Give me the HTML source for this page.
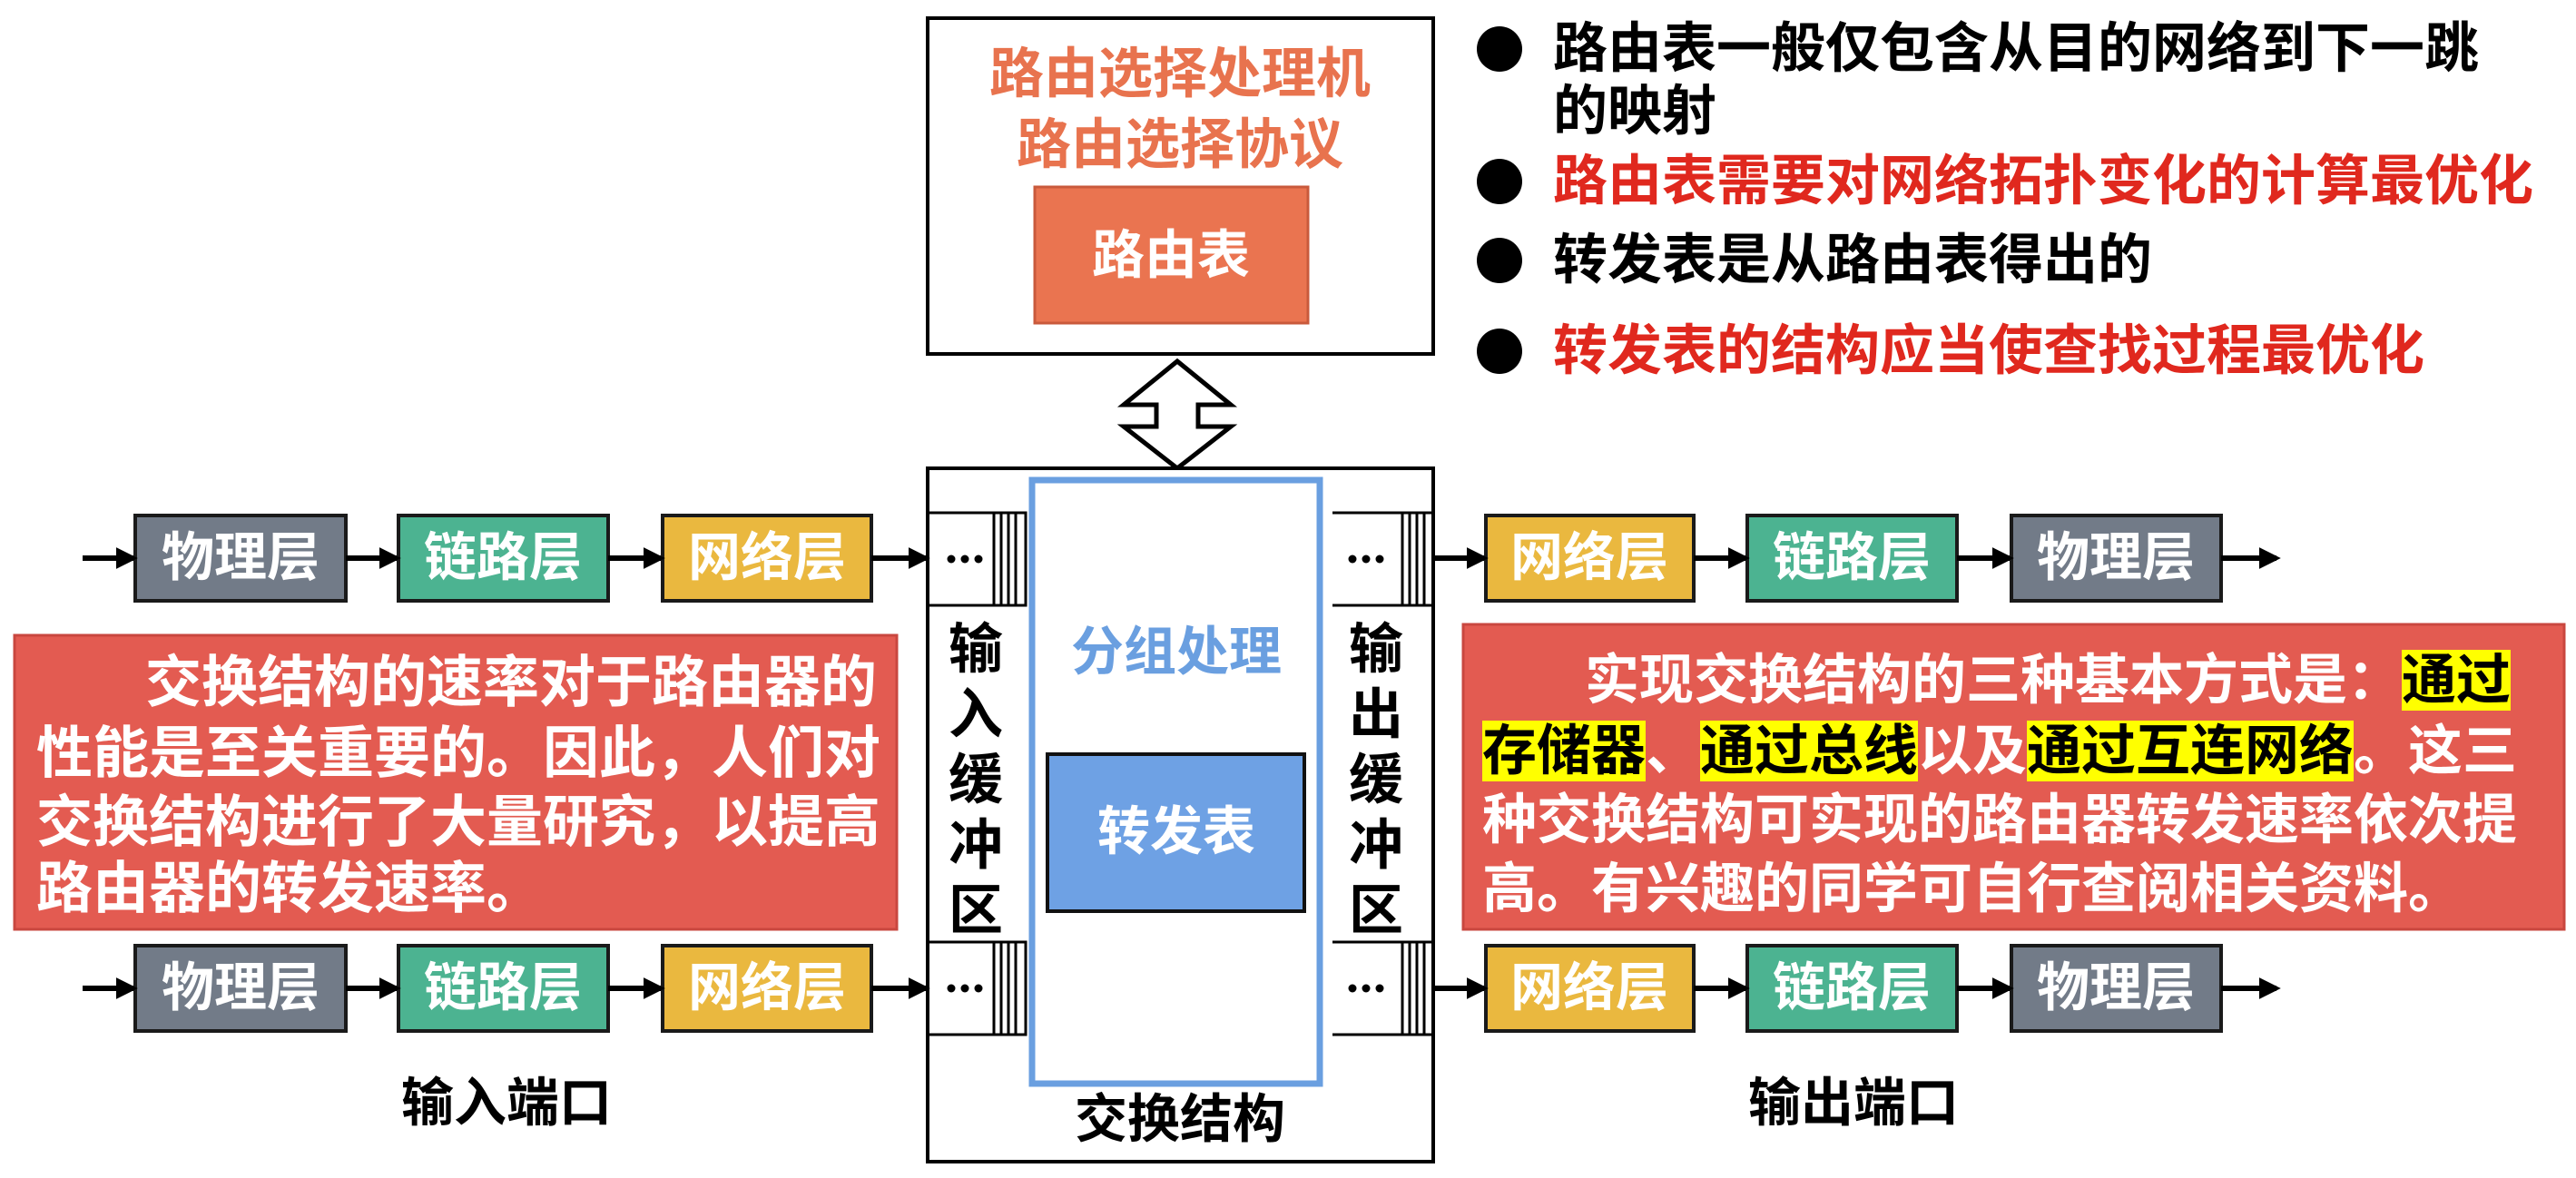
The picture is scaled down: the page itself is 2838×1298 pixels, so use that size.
<!DOCTYPE html>
<html><head><meta charset="utf-8"><style>
html,body{margin:0;padding:0;background:#fff;}
body{width:2838px;height:1298px;position:relative;overflow:hidden;font-family:"Liberation Sans","Noto Sans CJK SC",sans-serif;font-weight:bold;}
.t{position:absolute;white-space:nowrap;line-height:1;}
.c{transform:translateX(-50%);}
.hl{background:#ffff00;color:#000;}
svg{position:absolute;left:0;top:0;}
</style></head><body>
<svg width="2838" height="1298" viewBox="0 0 2838 1298">
<defs><marker id="ah" markerWidth="4" markerHeight="4" refX="3.2" refY="2" orient="auto" markerUnits="strokeWidth"><path d="M0,0 L4,2 L0,4 z" fill="#000"/></marker></defs>
<rect x="1022" y="20" width="557" height="370" fill="#fff" stroke="#000" stroke-width="4"/>
<rect x="1140" y="206" width="301" height="150" fill="#ea7450" stroke="#c95a3c" stroke-width="3"/>
<path d="M1297,398 L1356,446 L1320,446 L1320,470 L1356,470 L1297,516 L1238,470 L1274,470 L1274,446 L1238,446 Z" fill="#fff" stroke="#000" stroke-width="5"/>
<rect x="1022" y="516" width="557" height="764" fill="#fff" stroke="#000" stroke-width="4"/>
<rect x="1137" y="529" width="317" height="665" fill="none" stroke="#6a9fe0" stroke-width="7"/>
<rect x="1154" y="831" width="283" height="173" fill="#6ea1e4" stroke="#111" stroke-width="4"/>
<g stroke="#000" stroke-width="3" fill="none">
<path d="M1022,565 H1130 V667 H1022"/><path d="M1095,565 V667 M1103,565 V667 M1111,565 V667 M1119,565 V667"/>
<path d="M1022,1038 H1130 V1140 H1022"/><path d="M1095,1038 V1140 M1103,1038 V1140 M1111,1038 V1140 M1119,1038 V1140"/>
<path d="M1579,565 H1468 M1579,667 H1468 M1545,565 V667 M1553,565 V667 M1561,565 V667 M1569,565 V667"/>
<path d="M1579,1038 H1468 M1579,1140 H1468 M1545,1038 V1140 M1553,1038 V1140 M1561,1038 V1140 M1569,1038 V1140"/>
</g>
<g fill="#000">
<circle cx="1048" cy="616" r="4.5"/><circle cx="1063" cy="616" r="4.5"/><circle cx="1078" cy="616" r="4.5"/>
<circle cx="1048" cy="1089" r="4.5"/><circle cx="1063" cy="1089" r="4.5"/><circle cx="1078" cy="1089" r="4.5"/>
<circle cx="1490" cy="616" r="4.5"/><circle cx="1505" cy="616" r="4.5"/><circle cx="1520" cy="616" r="4.5"/>
<circle cx="1490" cy="1089" r="4.5"/><circle cx="1505" cy="1089" r="4.5"/><circle cx="1520" cy="1089" r="4.5"/>
</g>
<g stroke="#1a1a1a" stroke-width="4">
<rect x="149" y="568" width="232" height="94" fill="#727b88"/>
<rect x="439" y="568" width="231" height="94" fill="#4cb391"/>
<rect x="730" y="568" width="230" height="94" fill="#eab83f"/>
<rect x="149" y="1042" width="232" height="94" fill="#727b88"/>
<rect x="439" y="1042" width="231" height="94" fill="#4cb391"/>
<rect x="730" y="1042" width="230" height="94" fill="#eab83f"/>
<rect x="1637" y="568" width="229" height="94" fill="#eab83f"/>
<rect x="1925" y="568" width="231" height="94" fill="#4cb391"/>
<rect x="2216" y="568" width="231" height="94" fill="#727b88"/>
<rect x="1637" y="1042" width="229" height="94" fill="#eab83f"/>
<rect x="1925" y="1042" width="231" height="94" fill="#4cb391"/>
<rect x="2216" y="1042" width="231" height="94" fill="#727b88"/>
</g>
<g stroke="#000" stroke-width="6" marker-end="url(#ah)">
<line x1="91" y1="615" x2="147" y2="615"/><line x1="381" y1="615" x2="437" y2="615"/><line x1="670" y1="615" x2="728" y2="615"/><line x1="960" y1="615" x2="1020" y2="615"/>
<line x1="1579" y1="615" x2="1635" y2="615"/><line x1="1866" y1="615" x2="1923" y2="615"/><line x1="2156" y1="615" x2="2214" y2="615"/><line x1="2447" y1="615" x2="2508" y2="615"/>
<line x1="91" y1="1089" x2="147" y2="1089"/><line x1="381" y1="1089" x2="437" y2="1089"/><line x1="670" y1="1089" x2="728" y2="1089"/><line x1="960" y1="1089" x2="1020" y2="1089"/>
<line x1="1579" y1="1089" x2="1635" y2="1089"/><line x1="1866" y1="1089" x2="1923" y2="1089"/><line x1="2156" y1="1089" x2="2214" y2="1089"/><line x1="2447" y1="1089" x2="2508" y2="1089"/>
</g>
<rect x="16" y="700" width="972" height="324" fill="#e35b51" stroke="#c9473f" stroke-width="3"/>
<rect x="1612" y="688" width="1213" height="336" fill="#e35b51" stroke="#c9473f" stroke-width="3"/>
<g fill="#000"><circle cx="1652" cy="54" r="25"/><circle cx="1652" cy="200" r="25"/><circle cx="1652" cy="287" r="25"/><circle cx="1652" cy="387" r="25"/></g>
</svg>

<div class="t c" style="left:1300px;top:52px;font-size:60px;color:#e8734e;">路由选择处理机</div>
<div class="t c" style="left:1300px;top:130px;font-size:60px;color:#e8734e;">路由选择协议</div>
<div class="t c" style="left:1290px;top:253px;font-size:58px;color:#fff;">路由表</div>
<div class="t c" style="left:1296px;top:690px;font-size:58px;color:#6a9fe0;">分组处理</div>
<div class="t c" style="left:1296px;top:888px;font-size:58px;color:#fff;">转发表</div>

<div class="t c" style="left:1075px;top:680px;font-size:60px;line-height:72px;width:62px;white-space:normal;text-align:center;">输入缓冲区</div>
<div class="t c" style="left:1516px;top:680px;font-size:60px;line-height:72px;width:62px;white-space:normal;text-align:center;">输出缓冲区</div>

<div class="t c" style="left:265px;top:586px;font-size:58px;color:#fff;">物理层</div>
<div class="t c" style="left:554px;top:586px;font-size:58px;color:#fff;">链路层</div>
<div class="t c" style="left:845px;top:586px;font-size:58px;color:#fff;">网络层</div>
<div class="t c" style="left:265px;top:1060px;font-size:58px;color:#fff;">物理层</div>
<div class="t c" style="left:554px;top:1060px;font-size:58px;color:#fff;">链路层</div>
<div class="t c" style="left:845px;top:1060px;font-size:58px;color:#fff;">网络层</div>
<div class="t c" style="left:1751px;top:586px;font-size:58px;color:#fff;">网络层</div>
<div class="t c" style="left:2040px;top:586px;font-size:58px;color:#fff;">链路层</div>
<div class="t c" style="left:2331px;top:586px;font-size:58px;color:#fff;">物理层</div>
<div class="t c" style="left:1751px;top:1060px;font-size:58px;color:#fff;">网络层</div>
<div class="t c" style="left:2040px;top:1060px;font-size:58px;color:#fff;">链路层</div>
<div class="t c" style="left:2331px;top:1060px;font-size:58px;color:#fff;">物理层</div>

<div class="t c" style="left:558px;top:1187px;font-size:58px;">输入端口</div>
<div class="t c" style="left:1300px;top:1205px;font-size:58px;">交换结构</div>
<div class="t c" style="left:2042px;top:1187px;font-size:58px;">输出端口</div>

<div class="t" style="left:160px;top:722px;font-size:62px;color:#fff;">交换结构的速率对于路由器的</div>
<div class="t" style="left:40px;top:800px;font-size:62px;color:#fff;">性能是至关重要的。因此，人们对</div>
<div class="t" style="left:40px;top:876px;font-size:62px;color:#fff;">交换结构进行了大量研究，以提高</div>
<div class="t" style="left:40px;top:949px;font-size:62px;color:#fff;">路由器的转发速率。</div>

<div class="t" style="left:1746px;top:720px;font-size:60px;color:#fff;">实现交换结构的三种基本方式是：<span class="hl">通过</span></div>
<div class="t" style="left:1633px;top:798px;font-size:60px;color:#fff;"><span class="hl">存储器</span>、<span class="hl">通过总线</span>以及<span class="hl">通过互连网络</span>。这三</div>
<div class="t" style="left:1633px;top:874px;font-size:60px;color:#fff;">种交换结构可实现的路由器转发速率依次提</div>
<div class="t" style="left:1633px;top:950px;font-size:60px;color:#fff;">高。有兴趣的同学可自行查阅相关资料。</div>

<div class="t" style="left:1711px;top:24px;font-size:60px;color:#000;">路由表一般仅包含从目的网络到下一跳</div>
<div class="t" style="left:1711px;top:93px;font-size:60px;color:#000;">的映射</div>
<div class="t" style="left:1711px;top:170px;font-size:60px;color:#e0281e;">路由表需要对网络拓扑变化的计算最优化</div>
<div class="t" style="left:1711px;top:257px;font-size:60px;color:#000;">转发表是从路由表得出的</div>
<div class="t" style="left:1711px;top:357px;font-size:60px;color:#e0281e;">转发表的结构应当使查找过程最优化</div>
</body></html>
